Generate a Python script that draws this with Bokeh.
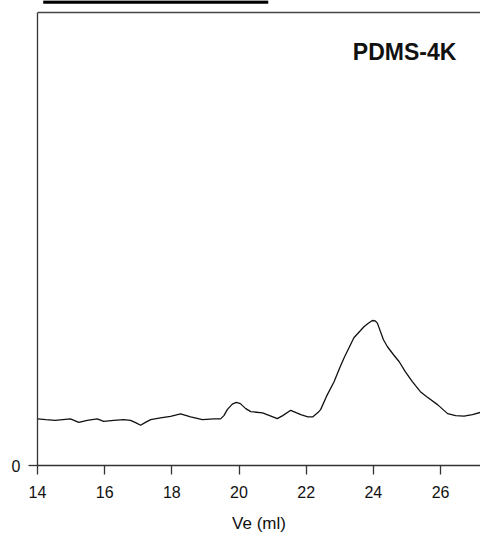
from bokeh.plotting import figure
from bokeh.models import Range1d, FixedTicker, Label, Span
from bokeh.embed import file_html
from bokeh.resources import INLINE

# Elution volume (ml) and detector response (arbitrary units)
ve = [14.00, 14.25, 14.53, 14.75, 14.98, 15.23, 15.48, 15.78, 15.97, 16.27,
      16.57, 16.77, 16.92, 17.07, 17.20, 17.37, 17.66, 17.96, 18.26, 18.56,
      18.91, 19.25, 19.45, 19.55, 19.65, 19.80, 19.92, 20.04, 20.20, 20.35,
      20.70, 20.95, 21.14, 21.30, 21.54, 21.70, 21.84, 22.05, 22.19, 22.35,
      22.43, 22.60, 22.83, 23.00, 23.13, 23.42, 23.72, 23.85, 23.97, 24.05,
      24.12, 24.30, 24.42, 24.60, 24.77, 24.95, 25.16, 25.40, 25.61, 25.91,
      26.21, 26.45, 26.70, 26.95, 27.20]
signal = [46.7, 46.0, 45.3, 46.0, 46.7, 43.3, 45.3, 46.7, 44.3, 45.3,
          46.0, 45.3, 43.0, 40.3, 43.0, 46.0, 47.7, 49.3, 51.7, 48.7,
          46.0, 46.7, 46.7, 50.0, 56.0, 61.5, 63.3, 62.0, 57.0, 54.0,
          52.7, 49.5, 47.0, 50.0, 55.3, 53.0, 51.0, 48.8, 48.7, 53.0,
          56.0, 69.0, 84.0, 98.0, 108.0, 128.0, 139.0, 142.5, 145.3, 145.0,
          142.7, 126.0, 119.0, 111.0, 104.0, 94.0, 84.0, 74.0, 68.5, 61.0,
          52.0, 50.0, 49.5, 51.0, 53.3]
x_ticks = [14, 16, 18, 20, 22, 24, 26]
y_ticks = [0]
sample_label = "PDMS-4K"
x_label = "Ve (ml)"
# underline of the (cropped) heading above the plot box
heading_rule_x = [14.17, 20.87]
heading_rule_y = [464.5, 464.5]

FONT = "Liberation Sans"
Y_TOP = 454  # top of the plot box

p = figure(width=480, height=535, output_backend="svg", toolbar_location=None,
           x_range=Range1d(14, 27.19), y_range=Range1d(0, 466),
           min_border_left=37, min_border_right=0, min_border_top=0,
           min_border_bottom=69)
p.outline_line_color = None
p.xgrid.visible = False
p.ygrid.visible = False
p.background_fill_color = "white"
p.border_fill_color = "white"

p.line(ve, signal, line_color="#111111", line_width=1.3)
p.line(heading_rule_x, heading_rule_y, line_color="black", line_width=3.5)

for ax in (p.xaxis[0], p.yaxis[0]):
    ax.axis_line_color = "#333333"
    ax.axis_line_width = 1.3
    ax.major_tick_line_color = "#333333"
    ax.major_tick_line_width = 1.3
    ax.major_tick_in = 0
    ax.major_tick_out = 9
    ax.minor_tick_line_color = None
    ax.major_label_text_font = FONT
    ax.major_label_text_font_size = "16px"
    ax.major_label_text_color = "#111111"

p.xaxis[0].ticker = FixedTicker(ticks=x_ticks)
p.xaxis[0].major_label_standoff = 11
p.xaxis[0].axis_label = x_label
p.xaxis[0].axis_label_text_font = FONT
p.xaxis[0].axis_label_text_font_size = "17px"
p.xaxis[0].axis_label_text_font_style = "normal"
p.xaxis[0].axis_label_text_color = "#111111"
p.xaxis[0].axis_label_standoff = 13

p.yaxis[0].ticker = FixedTicker(ticks=y_ticks)
p.yaxis[0].major_label_standoff = 8
p.yaxis[0].bounds = (0, Y_TOP)

top = Span(location=Y_TOP, dimension="width", line_color="#444444", line_width=1.5)
p.add_layout(top)

p.add_layout(Label(x=24.93, y=414, text=sample_label, text_align="center",
                   text_baseline="alphabetic", text_font=FONT,
                   text_font_size="23px", text_font_style="bold",
                   text_color="#111111"))

open("out.html", "w").write(file_html(p, INLINE))
